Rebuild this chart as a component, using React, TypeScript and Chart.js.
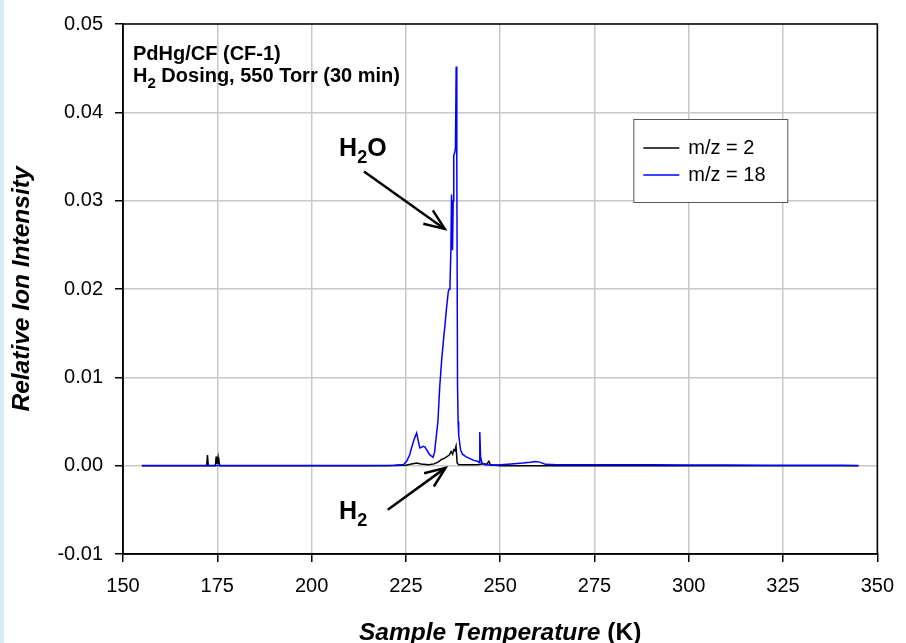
import React, { useEffect, useRef } from "react";
import { Chart, registerables } from "chart.js";

Chart.register(...registerables);

const FONT = '"Liberation Sans", Arial, Helvetica, sans-serif';

// Tick values
const xTickValues = [150, 175, 200, 225, 250, 275, 300, 325, 350];
const yTickValues = [-0.01, 0.0, 0.01, 0.02, 0.03, 0.04, 0.05];

// Series labels / colours
const seriesLabels = ["m/z = 2", "m/z = 18"];
const seriesColors = ["#000000", "#0000ff"];

// m/z = 18 (H2O)
const h2oTemps = [
  155, 165, 175, 185, 195, 205, 215, 222, 224.4, 225.2, 226.0, 226.5, 227.2, 227.85,
  228.3, 228.7, 229.2, 229.6, 230.1, 230.5, 231.3, 232.2, 232.6, 232.9, 233.5, 233.96,
  234.5, 235.1, 235.4, 235.7, 236.0, 236.24, 236.5, 236.7, 236.94, 237.1, 237.25, 237.37,
  237.55, 237.7, 238.0, 238.15, 238.34, 238.5, 238.7, 238.85, 239.0, 239.5, 240.0, 241.0,
  242.0, 243.0, 244.0, 244.4, 244.6, 244.8, 245.2, 246.0, 248.0, 250, 253, 256, 258,
  259.3, 260.5, 262, 265, 270, 280, 290, 300, 310, 320, 330, 340, 345,
];
const h2oValues = [
  0.00002, 0.00003, 0.00003, 0.00002, 0.00003, 0.00003, 0.00003, 0.00005, 0.00013, 0.0005,
  0.0012, 0.002, 0.003, 0.0037, 0.0028, 0.002, 0.0021, 0.0022, 0.0021, 0.0018, 0.00125,
  0.00095, 0.0015, 0.0027, 0.005, 0.0088, 0.012, 0.0148, 0.016, 0.0175, 0.0187, 0.0197,
  0.02, 0.0205, 0.0245, 0.0307, 0.028, 0.0244, 0.03, 0.0351, 0.0355, 0.036, 0.0452, 0.035,
  0.009, 0.005, 0.0035, 0.0018, 0.0013, 0.001, 0.0008, 0.0006, 0.0005, 0.0004, 0.0038,
  0.001, 0.0003, 0.0001, 0.00005, 0.0001, 0.0002, 0.0003, 0.0004, 0.00048, 0.0004, 0.00015,
  0.0001, 0.0001, 0.0001, 0.0001, 0.00008, 0.00008, 0.00006, 0.00005, 0.00005, 0.00003,
];

// m/z = 2 (H2)
const h2Temps = [
  155, 165, 170, 172.2, 172.4, 172.6, 174.5, 174.7, 174.9, 175.2, 175.3, 175.45, 175.6,
  180, 200, 220, 225, 226.5, 227.9, 229.0, 231.0, 232.5, 233.5, 234.5, 235.5, 236.5,
  237.0, 237.4, 237.7, 238.0, 238.3, 238.6, 239.0, 244.0, 245, 246.5, 247.0, 247.4,
  250, 300, 345,
];
const h2Values = [
  0, 0, 0, 0, 0.0012, 0, 0, 0.00104, 0.0002, 0.00093, 0.0002, 0.00086, 0, 0, 0, 0,
  0.00005, 0.0002, 0.0003, 0.0002, 0.0001, 0.0002, 0.0004, 0.0007, 0.0009, 0.0012,
  0.0016, 0.0013, 0.0018, 0.0017, 0.0022, 0.0003, 0.0001, 0.0001, 0.0002, 0.0002,
  0.0005, 0.0001, 0, 0, 0,
];

// Annotations (data coordinates)
const h2oLabelPos = [207.3, 0.0351];
const h2oArrow = [213.9, 0.0333, 235.3, 0.0268];
const h2LabelPos = [207.3, -0.006];
const h2Arrow = [220.2, -0.005, 235.5, -0.00025];

const infoLine1 = "PdHg/CF (CF-1)";
const infoLine2Rest = " Dosing, 550 Torr (30 min)";

function drawArrow(ctx: CanvasRenderingContext2D, x1: number, y1: number, x2: number, y2: number) {
  ctx.save();
  ctx.strokeStyle = "#000";
  ctx.lineWidth = 2.5;
  ctx.lineCap = "butt";
  ctx.beginPath();
  ctx.moveTo(x1, y1);
  ctx.lineTo(x2, y2);
  ctx.stroke();
  const ang = Math.atan2(y1 - y2, x1 - x2);
  const len = 22;
  const half = (22 * Math.PI) / 180;
  ctx.beginPath();
  ctx.moveTo(x2 + len * Math.cos(ang - half), y2 + len * Math.sin(ang - half));
  ctx.lineTo(x2, y2);
  ctx.lineTo(x2 + len * Math.cos(ang + half), y2 + len * Math.sin(ang + half));
  ctx.stroke();
  ctx.restore();
}

function drawSubText(
  ctx: CanvasRenderingContext2D,
  x: number,
  y: number,
  main: string,
  sub: string,
  rest: string,
  size: number,
  subSize: number,
  subShift: number
) {
  ctx.font = `bold ${size}px ${FONT}`;
  ctx.fillText(main, x, y);
  let cx = x + ctx.measureText(main).width;
  ctx.font = `bold ${subSize}px ${FONT}`;
  ctx.fillText(sub, cx, y + subShift);
  cx += ctx.measureText(sub).width;
  ctx.font = `bold ${size}px ${FONT}`;
  ctx.fillText(rest, cx, y);
}

const overlayPlugin = {
  id: "overlay",
  afterDraw(chart: any) {
    const { ctx, chartArea: ca, scales } = chart;
    const xs = scales.x;
    const ys = scales.y;
    const px = (v: number) => xs.getPixelForValue(v);
    const py = (v: number) => ys.getPixelForValue(v);
    ctx.save();
    // frame
    ctx.strokeStyle = "#000";
    ctx.lineWidth = 1.5;
    ctx.strokeRect(ca.left, ca.top, ca.right - ca.left, ca.bottom - ca.top);

    ctx.fillStyle = "#000";
    ctx.textAlign = "left";
    ctx.textBaseline = "alphabetic";

    // info text
    ctx.font = `bold 20px ${FONT}`;
    ctx.fillText(infoLine1, ca.left + 10, ca.top + 36);
    drawSubText(ctx, ca.left + 10, ca.top + 58, "H", "2", infoLine2Rest, 20, 15, 6);

    // annotations
    drawSubText(ctx, px(h2oLabelPos[0]), py(h2oLabelPos[1]), "H", "2", "O", 25, 18, 7);
    drawArrow(ctx, px(h2oArrow[0]), py(h2oArrow[1]), px(h2oArrow[2]), py(h2oArrow[3]));
    drawSubText(ctx, px(h2LabelPos[0]), py(h2LabelPos[1]), "H", "2", "", 25, 18, 7);
    drawArrow(ctx, px(h2Arrow[0]), py(h2Arrow[1]), px(h2Arrow[2]), py(h2Arrow[3]));

    // legend
    const lx = ca.right - 244;
    const ly = ca.top + 95;
    const lw = 154;
    const lh = 83;
    ctx.fillStyle = "#fff";
    ctx.fillRect(lx, ly, lw, lh);
    ctx.strokeStyle = "#555";
    ctx.lineWidth = 1;
    ctx.strokeRect(lx + 0.5, ly + 0.5, lw, lh);
    ctx.font = `20px ${FONT}`;
    ctx.textBaseline = "middle";
    seriesLabels.forEach((lab, i) => {
      const ry = ly + 29 + i * 27;
      ctx.strokeStyle = seriesColors[i];
      ctx.lineWidth = 1.5;
      ctx.beginPath();
      ctx.moveTo(lx + 10, ry);
      ctx.lineTo(lx + 46, ry);
      ctx.stroke();
      ctx.fillStyle = "#000";
      ctx.fillText(lab, lx + 55, ry);
    });

    // x-axis title with mixed styles
    const t1 = "Sample Temperature ";
    const t2 = "(K)";
    ctx.textBaseline = "alphabetic";
    ctx.font = `italic bold 24.5px ${FONT}`;
    const w1 = ctx.measureText(t1).width;
    ctx.font = `bold 24.5px ${FONT}`;
    const w2 = ctx.measureText(t2).width;
    const cx = (ca.left + ca.right) / 2;
    const sx = cx - (w1 + w2) / 2;
    ctx.font = `italic bold 24.5px ${FONT}`;
    ctx.fillText(t1, sx, 640);
    ctx.font = `bold 24.5px ${FONT}`;
    ctx.fillText(t2, sx + w1, 640);
    ctx.restore();
  },
};

export default function App() {
  const canvasRef = useRef<HTMLCanvasElement | null>(null);

  useEffect(() => {
    document.body.style.margin = "0";
    const canvas = canvasRef.current;
    if (!canvas) return;
    const toPts = (xs: number[], ys: number[]) => xs.map((x, i) => ({ x, y: ys[i] }));
    const chart = new Chart(canvas, {
      type: "scatter",
      data: {
        datasets: [
          {
            label: seriesLabels[1],
            data: toPts(h2oTemps, h2oValues),
            showLine: true,
            borderColor: seriesColors[1],
            backgroundColor: seriesColors[1],
            borderWidth: 1.5,
            pointRadius: 0,
            tension: 0,
          },
          {
            label: seriesLabels[0],
            data: toPts(h2Temps, h2Values),
            showLine: true,
            borderColor: seriesColors[0],
            backgroundColor: seriesColors[0],
            borderWidth: 1.5,
            pointRadius: 0,
            tension: 0,
          },
        ],
      },
      options: {
        animation: false,
        responsive: false,
        devicePixelRatio: 1,
        layout: { padding: { left: 0, right: 20, top: 17, bottom: 0 } },
        plugins: {
          legend: { display: false },
          tooltip: { enabled: false },
        },
        scales: {
          x: {
            type: "linear",
            min: 150,
            max: 350,
            afterBuildTicks: (s: any) => {
              s.ticks = xTickValues.map((v) => ({ value: v }));
            },
            afterFit: (s: any) => {
              s.height = 89;
            },
            ticks: {
              color: "#000",
              font: { family: FONT, size: 20 },
              padding: 12,
              maxRotation: 0,
              autoSkip: false,
              callback: (v: any) => String(v),
            },
            grid: { color: "#c8c8c8", lineWidth: 1.5, tickLength: 8, tickColor: "#000" },
            border: { display: true, color: "#000", width: 1.5 },
            title: { display: false },
          },
          y: {
            type: "linear",
            min: -0.01,
            max: 0.05,
            afterBuildTicks: (s: any) => {
              s.ticks = yTickValues.map((v) => ({ value: v }));
            },
            afterFit: (s: any) => {
              s.width = 123;
            },
            ticks: {
              color: "#000",
              font: { family: FONT, size: 20 },
              padding: 12,
              autoSkip: false,
              callback: (v: any) => Number(v).toFixed(2),
            },
            grid: { color: "#c8c8c8", lineWidth: 1.5, tickLength: 8, tickColor: "#000" },
            border: { display: true, color: "#000", width: 1.5 },
            title: {
              display: true,
              text: "Relative Ion Intensity",
              color: "#000",
              font: { family: FONT, size: 24.5, weight: "bold", style: "italic" },
              padding: { top: 8, bottom: 0 },
            },
          },
        },
      },
      plugins: [overlayPlugin],
    });
    return () => chart.destroy();
  }, []);

  return (
    <div style={{ position: "fixed", left: 0, top: 0, width: 906, height: 643, background: "#fff" }}>
      <canvas ref={canvasRef} width={906} height={643} style={{ display: "block" }} />
      <div style={{ position: "absolute", left: 0, top: 0, width: 4, height: 643, background: "#d6eef3" }} />
    </div>
  );
}
